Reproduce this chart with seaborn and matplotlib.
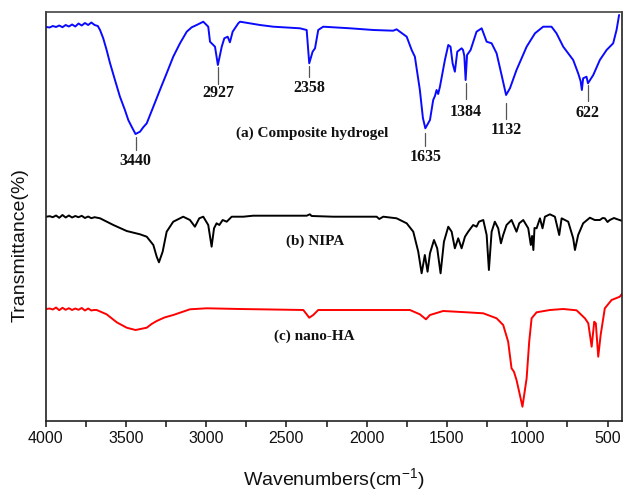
import matplotlib
matplotlib.use("Agg")
import matplotlib.pyplot as plt
import seaborn as sns
import pandas as pd
from matplotlib.ticker import MultipleLocator

# ---------------- data (wavenumber cm-1, transmittance a.u.) ----------------
wn_a = [3995, 3975, 3955, 3935, 3915, 3895, 3875, 3855, 3835, 3815, 3795, 3775, 3755,
        3735, 3715, 3695, 3675, 3661, 3641, 3620, 3599, 3568, 3537, 3506, 3485, 3464,
        3440, 3412, 3392, 3370, 3329, 3288, 3246, 3205, 3163, 3121, 3090, 3059, 3018,
        2987, 2976, 2945, 2927, 2903, 2887, 2866, 2852, 2835, 2800, 2789, 2665, 2582,
        2416, 2374, 2358, 2337, 2322, 2302, 2271, 2104, 1959, 1835, 1814, 1751, 1720,
        1700, 1669, 1650, 1635, 1606, 1586, 1575, 1565, 1555, 1544, 1513, 1492, 1478,
        1465, 1451, 1436, 1409, 1400, 1392, 1384, 1375, 1353, 1316, 1284, 1253, 1222,
        1191, 1160, 1132, 1108, 1067, 1004, 952, 901, 849, 818, 776, 714, 683, 668, 660,
        652, 631, 622, 589, 548, 506, 465, 444, 428]
t_a = [394, 393.5, 395, 394, 395.5, 393.8, 396, 394.5, 396.5, 394.5, 397.5, 395.5, 398,
       396, 398.5, 396, 395, 391, 382.7, 371, 358, 341, 324.3, 311, 301, 294.3,
       287, 289.3, 293.7, 297.7, 314.3, 331, 347.7, 364.3, 377.7, 389.3, 393.7, 396, 399.3,
       394.3, 379.3, 374.3, 356, 374.3, 382.7, 384.3, 378.7, 389.3, 397.7, 399.3, 396, 394.3,
       392.7, 391, 357.7, 369.3, 372.7, 391, 394.3, 392.7, 391, 390.3, 391.7, 384.3, 371,
       364.3, 331, 303, 292.7, 301, 321, 325, 331, 327, 334.3, 361, 376, 374.3,
       357.7, 349.3, 369.3, 372.7, 371, 365, 341, 366, 371, 389.3, 392.7, 379.3, 377.7,
       367.7, 346, 326, 332.7, 351, 374.3, 387.7, 394.3, 394.3, 387.7, 374.3, 361, 347.7, 340, 331,
       342.7, 344.3, 337.7, 346, 361, 371, 377.7, 391, 406]

wn_b = [3995, 3975, 3955, 3935, 3915, 3895, 3875, 3855, 3835, 3815, 3795, 3775, 3755,
        3735, 3715, 3695, 3661, 3578, 3495, 3412, 3370, 3329, 3308, 3294, 3271, 3246,
        3205, 3143, 3101, 3070, 3043, 3018, 2987, 2966, 2951, 2935, 2918, 2897, 2872,
        2841, 2769, 2707, 2374, 2354, 2343, 2209, 1938, 1922, 1897, 1814, 1751, 1710,
        1679, 1658, 1638, 1621, 1606, 1581, 1561, 1540, 1519, 1492, 1471, 1451, 1430,
        1409, 1388, 1368, 1337, 1316, 1301, 1274, 1253, 1239, 1222, 1202, 1181, 1164,
        1150, 1129, 1098, 1067, 1050, 1025, 994, 978, 970, 962, 955, 942, 921, 905, 890,
        859, 828, 801, 786, 745, 714, 703, 683, 652, 610, 580, 548, 530, 517, 500, 486,
        460, 444, 407]
t_b = [204.3, 204.8, 203.8, 205.5, 203.2, 206, 203.5, 205.5, 203.5, 205, 203.8, 205.2, 203,
       204.5, 202.8, 203.8, 202.7, 196, 190, 186.7, 184.3, 176, 164.3, 158.7, 169.3, 189.3,
       199.3, 204.3, 201, 194.3, 202.7, 204.3, 196, 174.3, 192.7, 197.7, 196, 201, 199.3,
       204.3, 204.3, 205.3, 205.3, 206.7, 205, 204.3, 204.3, 202, 204.3, 202.7, 197.7, 189.3,
       169.3, 147.7, 166, 149.3, 167.7, 181, 172.7, 147.7, 179.3, 194.3, 189.3, 172.7, 182.7,
       172.7, 184.3, 189.3, 196, 194.3, 199.3, 201, 186, 151, 189.3, 199.3, 192.7, 177.7,
       186, 196, 201, 189.3, 197.7, 201, 192.7, 176, 185, 171, 193, 192.7, 202.7, 192.7, 204.3,
       206.7, 204.3, 186, 202.7, 199.3, 182.7, 171, 186, 197.7, 203.3, 201, 201, 203, 202.7, 199, 201,
       203, 202, 200]

wn_c = [3995, 3975, 3955, 3935, 3915, 3895, 3875, 3855, 3835, 3815, 3795, 3775, 3755,
        3735, 3715, 3700, 3682, 3620, 3557, 3495, 3440, 3370, 3340, 3308, 3260, 3205,
        3150, 3101, 2997, 2789, 2395, 2374, 2358, 2333, 2302, 2209, 1731, 1669, 1631,
        1606, 1524, 1378, 1274, 1191, 1150, 1119, 1098, 1083, 1067, 1046, 1030, 1004,
        988, 973, 942, 859, 776, 693, 641, 620, 599, 583, 573, 558, 543, 517, 475, 424, 407]
t_c = [112, 112.5, 111.5, 113.5, 110.8, 113.2, 111.2, 112.8, 111, 112.5, 111.2, 113, 110.5,
       112.5, 110.5, 111, 111, 106.7, 98.7, 93.3, 91, 93.3, 97, 100, 103.5, 106,
       109, 111.7, 112.7, 112, 111, 106.7, 103.3, 106, 111, 111, 111, 106.7, 101.7,
       106, 110, 108.7, 107.7, 102.7, 96, 79.3, 52.7, 49.3, 41, 26, 14.3, 42.7,
       79.3, 102.7, 108.7, 111, 112, 110.7, 102.7, 97.7, 74.3, 99.3, 97.7, 64.3, 86, 112.7,
       121, 124.3, 127.7]

series_names = ["(a) Composite hydrogel", "(b) NIPA", "(c) nano-HA"]
series_colors = ["#0a0aff", "#000000", "#ff0000"]

peak_labels = [3440, 2927, 2358, 1635, 1384, 1132, 622]

x_ticks = [4000, 3500, 3000, 2500, 2000, 1500, 1000, 500]

# ---------------- layout (not data) ----------------
peak_text_y = [260, 328, 333, 264, 309, 291, 308]
peak_line_top = [284, 354, 355, 288, 338, 318, 336]
peak_line_bot = [271, 337, 344, 275, 322, 302, 320]
series_label_pos = [(2341, 288), (2323, 180), (2329, 85)]

# ---------------- build table ----------------
df = pd.concat([
    pd.DataFrame({"wn": wn_a, "T": t_a, "series": series_names[0]}),
    pd.DataFrame({"wn": wn_b, "T": t_b, "series": series_names[1]}),
    pd.DataFrame({"wn": wn_c, "T": t_c, "series": series_names[2]}),
], ignore_index=True)

sns.set_style("white")
plt.rcParams["font.family"] = ["Liberation Sans", "DejaVu Sans"]
plt.rcParams["mathtext.fontset"] = "custom"
plt.rcParams["mathtext.rm"] = "Liberation Sans"
plt.rcParams["mathtext.it"] = "Liberation Sans:italic"
plt.rcParams["mathtext.bf"] = "Liberation Sans:bold"

W, H = 623, 495
fig = plt.figure(figsize=(W / 100, H / 100), dpi=100)
ax = fig.add_axes([45.6 / W, (H - 421) / H, (622 - 45.6) / W, (421 - 12) / H])

sns.lineplot(data=df, x="wn", y="T", hue="series", palette=dict(zip(series_names, series_colors)),
             estimator=None, sort=False, legend=False, linewidth=1.4, ax=ax)

ax.set_xlim(4000, 410)
ax.set_ylim(0, 409)

# peak annotations
serif_peak = dict(family=["Liberation Serif", "DejaVu Serif"], weight="bold", size=11.5)
serif_lab = dict(family=["Liberation Serif", "DejaVu Serif"], weight="bold", size=11)
for p, ty, lt, lb in zip(peak_labels, peak_text_y, peak_line_top, peak_line_bot):
    ax.plot([p, p], [lb, lt], color="#555555", lw=0.9)
    ax.text(p, ty, str(p), ha="center", va="center", color="#111111", **serif_peak)

for name, (px, py) in zip(series_names, series_label_pos):
    ax.text(px, py, name, ha="center", va="center", color="#111111", **serif_lab)

# axes styling
ax.xaxis.set_minor_locator(MultipleLocator(250))
ax.set_xticks(x_ticks)
ax.set_xticklabels([str(v) for v in x_ticks])
ax.tick_params(axis="x", which="both", direction="out", length=4.5, width=1.1,
               bottom=True, labelsize=11.5, pad=3, colors="#111111")
ax.tick_params(axis="y", left=False, labelleft=False)
ax.set_yticks([])

for side in ["left", "bottom", "top", "right"]:
    ax.spines[side].set_visible(True)
    ax.spines[side].set_color("#222222")
    ax.spines[side].set_linewidth(1.2)
ax.spines["top"].set_color("#444444")

ax.set_xlabel("Wavenumbers(cm$^{-1}$)", fontsize=14, labelpad=14, color="#111111")
ax.set_ylabel("Transmittance(%)", fontsize=14, color="#111111")
ax.yaxis.set_label_coords(-0.030, 0.43)

fig.savefig("out.png", dpi=100, facecolor="white")
